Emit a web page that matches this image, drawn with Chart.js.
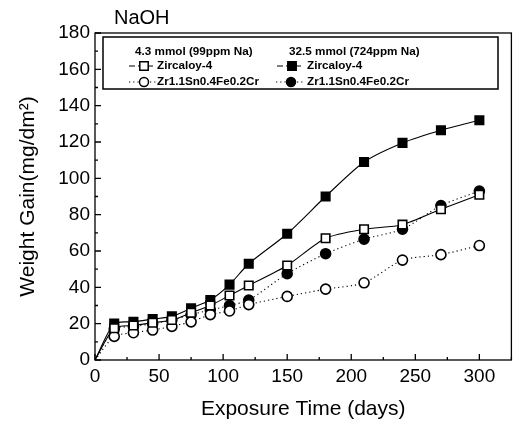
<!DOCTYPE html>
<html>
<head>
<meta charset="utf-8">
<script src="https://cdn.jsdelivr.net/npm/chart.js@4/dist/chart.umd.min.js"></script>
<style>
html,body{margin:0;padding:0;background:#fff;}
#wrap{width:519px;height:424px;position:relative;}
</style>
</head>
<body>
<div id="wrap"><canvas id="c" width="519" height="424"></canvas></div>
<script>
// ---- data ----
const days = [0, 15, 30, 45, 60, 75, 90, 105, 120, 150, 180, 210, 240, 270, 300];
const zry4Low  = [0, 17.5, 19, 20.5, 22, 26, 30, 35.5, 41, 52, 67, 72, 74.5, 83, 91];
const zry4High = [0, 20, 21, 22.5, 24, 28.5, 33, 41.5, 53, 69.5, 90, 109, 119.5, 126.5, 132];
const zrLow    = [0, 13, 15, 16.5, 18.5, 21, 25, 27, 30.5, 35, 39, 42.5, 55, 58, 63];
const zrHigh   = [0, 17, 18.5, 20, 22, 25, 27.5, 30, 33, 47.5, 58.5, 66.5, 72, 85, 93];
const xTicks = [0, 50, 100, 150, 200, 250, 300];
const yTicks = [0, 20, 40, 60, 80, 100, 120, 140, 160, 180];
const groupHeaders = ['4.3 mmol (99ppm Na)', '32.5 mmol (724ppm Na)'];
const alloyNames = ['Zircaloy-4', 'Zr1.1Sn0.4Fe0.2Cr'];
const chartTitle = 'NaOH';

const pts = arr => arr.map((v, i) => ({x: days[i], y: v}));
const FONT = "'Liberation Sans', Arial, sans-serif";

function ds(data, style, filled, dashed) {
  return {
    data: pts(data),
    borderColor: '#000',
    backgroundColor: filled ? '#000' : '#fff',
    borderWidth: 1.1,
    borderDash: dashed ? [1.2, 3] : [],
    pointStyle: style,
    pointRadius: data.map((v, i) => i === 0 ? 0 : (style === 'rect' ? 6.0 : 5.0)),
    pointBorderWidth: 1.6,
    pointBorderColor: '#000',
    pointBackgroundColor: filled ? '#000' : '#fff',
    tension: 0.25,
    fill: false
  };
}

const tickPlugin = {
  id: 'innerTicks',
  afterDraw(chart) {
    const ctx = chart.ctx, a = chart.chartArea;
    const xs = chart.scales.x, ys = chart.scales.y;
    ctx.save();
    ctx.strokeStyle = '#000';
    ctx.lineWidth = 1.3;
    ctx.strokeRect(a.left, a.top, a.right - a.left, a.bottom - a.top);
    ctx.beginPath();
    for (let v = 0; v <= xs.max; v += 25) {
      const px = xs.getPixelForValue(v);
      const len = v % 50 === 0 ? 6 : 3;
      ctx.moveTo(px, a.bottom); ctx.lineTo(px, a.bottom - len);
    }
    for (let v = 0; v <= ys.max; v += 10) {
      const py = ys.getPixelForValue(v);
      const len = v % 20 === 0 ? 6 : 3;
      ctx.moveTo(a.left, py); ctx.lineTo(a.left + len, py);
    }
    ctx.stroke();

    // title
    ctx.fillStyle = '#000';
    ctx.font = '20px ' + FONT;
    ctx.textBaseline = 'middle';
    ctx.textAlign = 'left';
    ctx.fillText(chartTitle, 114, 18);

    // legend box
    ctx.lineWidth = 1.5;
    ctx.strokeRect(103, 37, 395, 52);
    ctx.font = 'bold 11.7px ' + FONT;
    ctx.fillText(groupHeaders[0], 135, 52);
    ctx.fillText(groupHeaders[1], 289, 52);
    const dsets = chart.data.datasets;
    const entries = [
      {d: dsets[0], cx: 144, y: 66, tx: 157, name: alloyNames[0]},
      {d: dsets[1], cx: 292, y: 66, tx: 307, name: alloyNames[0]},
      {d: dsets[2], cx: 144, y: 82, tx: 157, name: alloyNames[1]},
      {d: dsets[3], cx: 291, y: 82, tx: 307, name: alloyNames[1]}
    ];
    entries.forEach(e => {
      ctx.save();
      ctx.lineWidth = 1.1;
      ctx.setLineDash(e.d.borderDash.length ? e.d.borderDash : [6, 3]);
      ctx.beginPath();
      ctx.moveTo(e.cx - 15, e.y); ctx.lineTo(e.cx + 12, e.y);
      ctx.stroke();
      ctx.setLineDash([]);
      ctx.lineWidth = 1.5;
      ctx.fillStyle = e.d.pointBackgroundColor;
      ctx.beginPath();
      if (e.d.pointStyle === 'rect') {
        ctx.rect(e.cx - 4.2, e.y - 4.2, 8.4, 8.4);
      } else {
        ctx.arc(e.cx, e.y, 4.5, 0, Math.PI * 2);
      }
      ctx.fill(); ctx.stroke();
      ctx.restore();
      ctx.fillStyle = '#000';
      ctx.font = 'bold 11.7px ' + FONT;
      ctx.fillText(e.name, e.tx, e.y);
    });
    ctx.restore();
  }
};

new Chart(document.getElementById('c'), {
  type: 'line',
  data: {
    datasets: [
      ds(zry4Low, 'rect', false, false),
      ds(zry4High, 'rect', true, false),
      ds(zrLow, 'circle', false, true),
      ds(zrHigh, 'circle', true, true)
    ]
  },
  options: {
    responsive: false,
    animation: false,
    devicePixelRatio: 1,
    layout: {padding: {left: 0, top: 33, right: 7, bottom: 0}},
    plugins: {legend: {display: false}, tooltip: {enabled: false}},
    scales: {
      x: {
        type: 'linear', min: 0, max: 325,
        afterBuildTicks: s => { s.ticks = xTicks.map(v => ({value: v})); },
        afterFit: s => { s.height = 64; },
        grid: {display: false, drawTicks: false},
        border: {display: false},
        ticks: {color: '#000', font: {family: FONT, size: 19}, padding: 5, maxRotation: 0},
        title: {display: true, text: 'Exposure Time (days)', color: '#000', font: {family: FONT, size: 21}, padding: {top: 0, bottom: 2}}
      },
      y: {
        type: 'linear', min: 0, max: 180,
        afterBuildTicks: s => { s.ticks = yTicks.map(v => ({value: v})); },
        afterFit: s => { s.width = 95; },
        grid: {display: false, drawTicks: false},
        border: {display: false},
        ticks: {color: '#000', font: {family: FONT, size: 19}, padding: 5},
        title: {display: true, text: 'Weight Gain(mg/dm²)', color: '#000', font: {family: FONT, size: 21}, padding: {top: 16, bottom: 0}}
      }
    }
  },
  plugins: [tickPlugin]
});
</script>
</body>
</html>
